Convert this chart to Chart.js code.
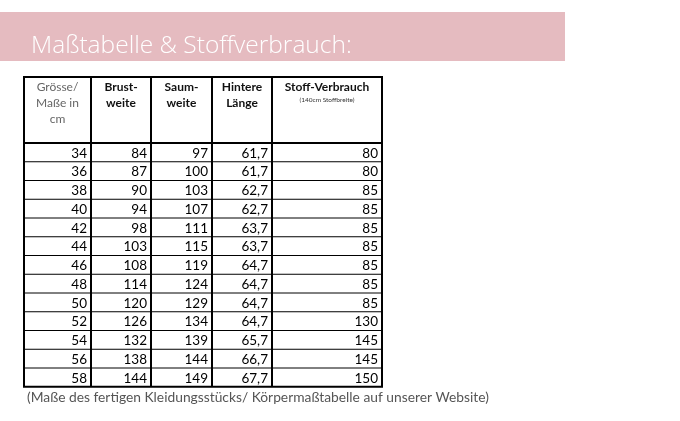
<!DOCTYPE html>
<html><head><meta charset="utf-8">
<script src="https://cdn.jsdelivr.net/npm/chart.js"></script>
<style>html,body{margin:0;padding:0;background:#fff}#wrap{width:680px;height:421px}</style>
</head><body><div id="wrap"><canvas id="c"></canvas></div>
<script>
const title = "Maßtabelle & Stoffverbrauch:";
const footnote = "(Maße des fertigen Kleidungsstücks/ Körpermaßtabelle auf unserer Website)";
const headers = [["Grösse/","Maße in","cm"],["Brust-","weite"],["Saum-","weite"],["Hintere","Länge"],["Stoff-Verbrauch"]];
const subHeader = "(140cm Stoffbreite)";
const sizes = ["34","36","38","40","42","44","46","48","50","52","54","56","58"];
const brustweite = ["84","87","90","94","98","103","108","114","120","126","132","138","144"];
const saumweite = ["97","100","103","107","111","115","119","124","129","134","139","144","149"];
const hintereLaenge = ["61,7","61,7","62,7","62,7","63,7","63,7","64,7","64,7","64,7","64,7","65,7","66,7","67,7"];
const stoffVerbrauch = ["80","80","85","85","85","85","85","85","85","130","145","145","150"];

const colEdges=[24,91,151,212,272,382];
const tableTop=77, headBottom=143, rowH=18.75;

const tablePlugin={id:'table',afterDraw(chart){
  const c=chart.ctx, X=v=>chart.scales.x.getPixelForValue(v), Y=v=>chart.scales.y.getPixelForValue(v);
  c.save();
  c.fillStyle='#e5bbc0'; c.fillRect(X(0),Y(12),X(565)-X(0),Y(61)-Y(12));
  c.fillStyle='#fff'; c.font='300 24.5px "Open Sans"'; c.textBaseline='alphabetic'; c.textAlign='left';
  c.fillText(title,X(31),Y(53));
  const cols=[sizes,brustweite,saumweite,hintereLaenge,stoffVerbrauch];
  const n=sizes.length, bottom=headBottom+n*rowH;
  c.textAlign='center';
  headers.forEach((h,i)=>{
    const cx=(X(colEdges[i])+X(colEdges[i+1]))/2;
    c.fillStyle=i===0?'#666':'#111';
    c.font=(i===0?'':'bold ')+'12px Lato';
    h.forEach((t,k)=>c.fillText(t,cx,Y(tableTop+14+k*16)));
  });
  c.font='6.5px Lato'; c.fillStyle='#333';
  c.fillText(subHeader,(X(272)+X(382))/2,Y(tableTop+25));
  c.font='13.5px Lato'; c.fillStyle='#000'; c.textAlign='right'; c.textBaseline='middle';
  cols.forEach((col,i)=>col.forEach((v,r)=>c.fillText(v,X(colEdges[i+1])-4,Y(headBottom+(r+0.5)*rowH+1))));
  c.strokeStyle='#000'; c.lineWidth=1;
  c.beginPath();
  for(let r=1;r<n;r++){c.moveTo(X(24),Y(headBottom+r*rowH));c.lineTo(X(382),Y(headBottom+r*rowH));}
  c.stroke();
  c.lineWidth=2; c.beginPath();
  colEdges.forEach(e=>{c.moveTo(X(e),Y(tableTop));c.lineTo(X(e),Y(bottom));});
  [tableTop,headBottom,bottom].forEach(y=>{c.moveTo(X(24)-1,Y(y));c.lineTo(X(382)+1,Y(y));});
  c.stroke();
  c.font='13.8px Lato'; c.fillStyle='#555'; c.textAlign='left'; c.textBaseline='alphabetic';
  c.fillText(footnote,X(27),Y(402));
  c.restore();
}};
new Chart(document.getElementById('c'),{type:'scatter',data:{datasets:[{data:[]}]},
 options:{responsive:true,maintainAspectRatio:false,animation:false,layout:{padding:0},
  plugins:{legend:{display:false},tooltip:{enabled:false}},
  scales:{x:{type:'linear',min:0,max:680,display:false},y:{type:'linear',min:0,max:421,reverse:true,display:false}}},
 plugins:[tablePlugin]});
</script></body></html>
